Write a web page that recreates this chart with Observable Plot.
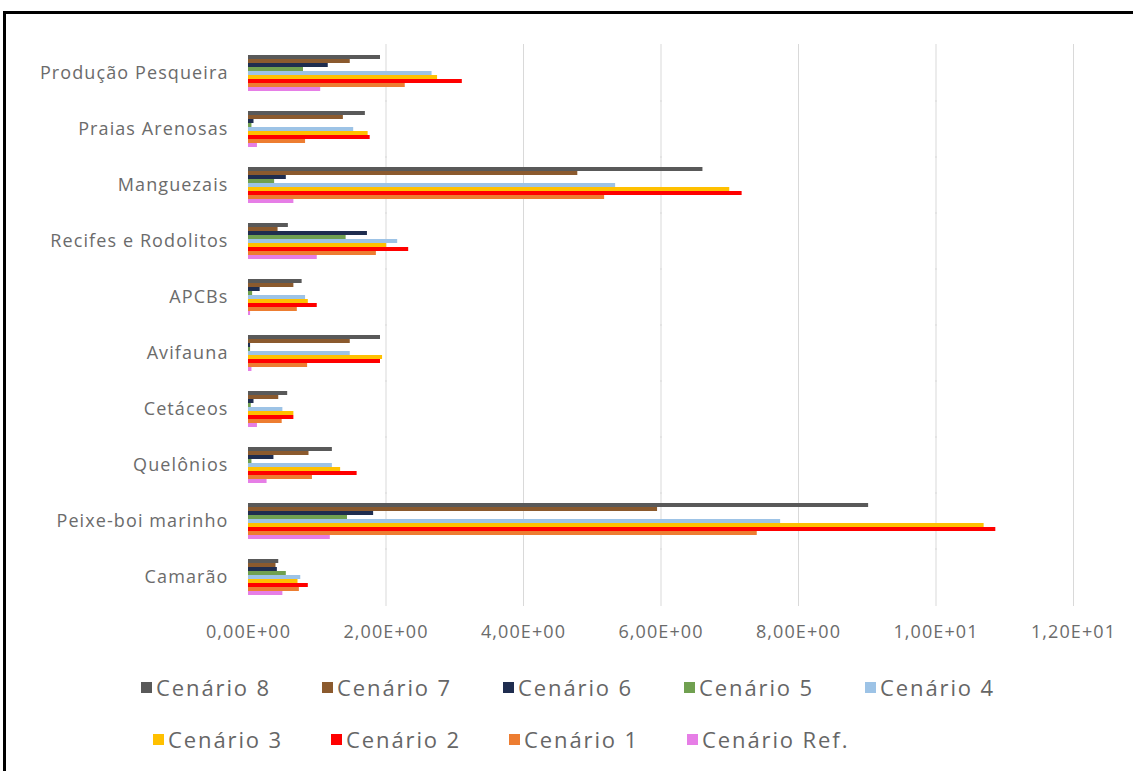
<!DOCTYPE html>
<html>
<head>
<meta charset="utf-8">
<script src="https://cdn.jsdelivr.net/npm/d3@7"></script>
<script src="https://cdn.jsdelivr.net/npm/@observablehq/plot@0.6"></script>
<style>
  html, body { margin: 0; padding: 0; background: #fff; }
  body { width: 1133px; height: 771px; overflow: hidden; position: relative; font-family: "Open Sans", sans-serif; }
  #frame { position: absolute; left: 3px; top: 11px; width: 1200px; height: 900px; border: 3px solid #000; box-sizing: border-box; }
  #chart { position: absolute; left: 0; top: 0; }
  #chart svg text { letter-spacing: 1.1px; }
  .legrow { position: absolute; display: flex; font-size: 22px; letter-spacing: 1.9px; color: #666; }
  .item { display: flex; align-items: center; width: 181px; }
  .row2 .item { width: 178px; }
  .sw { width: 11px; height: 11px; margin-right: 4px; flex: none; }
</style>
</head>
<body>
<div id="frame"></div>
<div id="chart"></div>
<div class="legrow" id="leg1" style="left:141px; top:672px;"></div>
<div class="legrow row2" id="leg2" style="left:153px; top:724px;"></div>
<script>
const categories = ["Produção Pesqueira","Praias Arenosas","Manguezais","Recifes e Rodolitos","APCBs","Avifauna","Cetáceos","Quelônios","Peixe-boi marinho","Camarão"];
const series = ["Cenário 8","Cenário 7","Cenário 6","Cenário 5","Cenário 4","Cenário 3","Cenário 2","Cenário 1","Cenário Ref."];
const colors = ["#595959","#8B5A2E","#1F2D4F","#70A050","#9DC3E6","#FFC000","#FF0000","#ED7D31","#E67EE6"];

const cen8   = [1.92, 1.70, 6.61, 0.58, 0.78, 1.92, 0.57, 1.22, 9.02, 0.44];
const cen7   = [1.48, 1.38, 4.79, 0.43, 0.66, 1.48, 0.44, 0.88, 5.95, 0.40];
const cen6   = [1.16, 0.08, 0.55, 1.73, 0.17, 0.03, 0.08, 0.37, 1.82, 0.42];
const cen5   = [0.80, 0.05, 0.38, 1.42, 0.06, 0.03, 0.04, 0.05, 1.44, 0.55];
const cen4   = [2.67, 1.53, 5.34, 2.17, 0.83, 1.48, 0.50, 1.22, 7.74, 0.76];
const cen3   = [2.75, 1.74, 7.00, 2.01, 0.87, 1.95, 0.66, 1.34, 10.70, 0.72];
const cen2   = [3.11, 1.77, 7.18, 2.33, 1.00, 1.92, 0.66, 1.58, 10.87, 0.87];
const cen1   = [2.28, 0.83, 5.18, 1.86, 0.71, 0.86, 0.49, 0.93, 7.40, 0.74];
const cenRef = [1.05, 0.13, 0.66, 1.00, 0.03, 0.05, 0.13, 0.27, 1.19, 0.50];

const xTicks = [0, 2, 4, 6, 8, 10, 12];
const xTickLabels = ["0,00E+00","2,00E+00","4,00E+00","6,00E+00","8,00E+00","1,00E+01","1,20E+01"];

const seriesValues = [cen8, cen7, cen6, cen5, cen4, cen3, cen2, cen1, cenRef];
const data = [];
categories.forEach((c, i) => series.forEach((s, j) => data.push({category: c, scenario: s, value: seriesValues[j][i]})));

const plot = Plot.plot({
  width: 1133,
  height: 655,
  marginLeft: 248,
  marginRight: 60,
  marginTop: 47,
  marginBottom: 51,
  style: {fontFamily: "'Open Sans', sans-serif", fontSize: "18px", color: "#6b6b6b", background: "transparent"},
  x: {domain: [0, 12], label: null},
  fy: {domain: categories, padding: 0.21, label: null},
  y: {domain: series, padding: 0, axis: null},
  color: {domain: series, range: colors},
  marks: [
    Plot.ruleX(xTicks.slice(1), {stroke: "#d9d9d9", strokeWidth: 1, insetTop: -7, insetBottom: -7}),
    Plot.barX(data, {fy: "category", y: "scenario", x: "value", fill: "scenario", inset: 0}),
    Plot.axisFy({anchor: "left", tickSize: 0, tickPadding: 20, label: null, fontSize: 18}),
    Plot.axisX({anchor: "bottom", ticks: xTicks, tickFormat: (d) => xTickLabels[xTicks.indexOf(d)], tickSize: 0, tickPadding: 26, label: null, fontSize: 18})
  ]
});
document.getElementById("chart").appendChild(plot);

function legendRow(el, idxs) {
  idxs.forEach(i => {
    const it = document.createElement("div");
    it.className = "item";
    const sw = document.createElement("span");
    sw.className = "sw";
    sw.style.background = colors[i];
    const t = document.createElement("span");
    t.textContent = series[i];
    it.appendChild(sw); it.appendChild(t);
    el.appendChild(it);
  });
}
legendRow(document.getElementById("leg1"), [0,1,2,3,4]);
legendRow(document.getElementById("leg2"), [5,6,7,8]);
</script>
</body>
</html>
